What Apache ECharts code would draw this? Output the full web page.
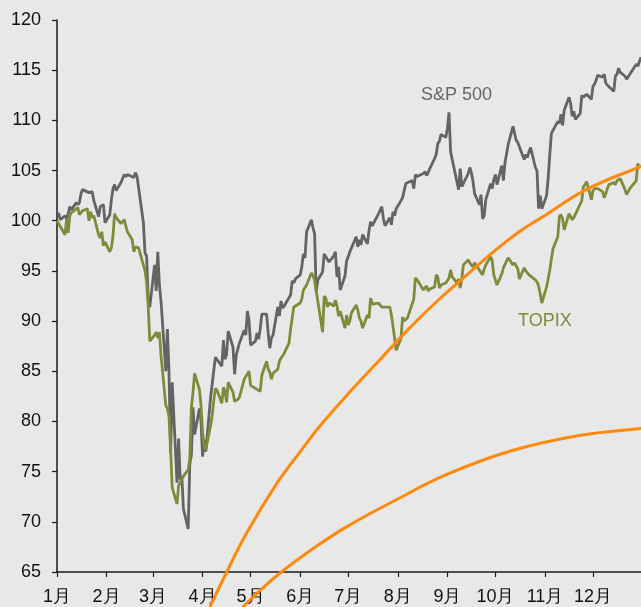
<!DOCTYPE html>
<html><head><meta charset="utf-8">
<script src="https://cdn.jsdelivr.net/npm/echarts@6/dist/echarts.min.js"></script>
<style>html,body{margin:0;padding:0;background:#e8e8e8}#c{width:641px;height:607px}</style>
</head><body><div id="c"></div>
<script>
const monthLabels = ['1月','2月','3月','4月','5月','6月','7月','8月','9月','10月','11月','12月'];

const spxDates = [
'01-02','01-03','01-06','01-07','01-08','01-09','01-10','01-13','01-14','01-15','01-16','01-17','01-21','01-22','01-23','01-24','01-27','01-28','01-29','01-30','01-31',
'02-03','02-04','02-05','02-06','02-07','02-10','02-11','02-12','02-13','02-14','02-18','02-19','02-20','02-21','02-24','02-25','02-26','02-27','02-28',
'03-02','03-03','03-04','03-05','03-06','03-09','03-10','03-11','03-12','03-13','03-16','03-17','03-18','03-19','03-20','03-23','03-24','03-25','03-26','03-27','03-30','03-31',
'04-01','04-02','04-03','04-06','04-07','04-08','04-09','04-13','04-14','04-15','04-16','04-17','04-20','04-21','04-22','04-23','04-24','04-27','04-28','04-29','04-30',
'05-01','05-04','05-05','05-06','05-07','05-08','05-11','05-12','05-13','05-14','05-15','05-18','05-19','05-20','05-21','05-22','05-26','05-27','05-28','05-29',
'06-01','06-02','06-03','06-04','06-05','06-08','06-09','06-10','06-11','06-12','06-15','06-16','06-17','06-18','06-19','06-22','06-23','06-24','06-25','06-26','06-29','06-30',
'07-01','07-02','07-06','07-07','07-08','07-09','07-10','07-13','07-14','07-15','07-16','07-17','07-20','07-21','07-22','07-23','07-24','07-27','07-28','07-29','07-30','07-31',
'08-03','08-04','08-05','08-06','08-07','08-10','08-11','08-12','08-13','08-14','08-17','08-18','08-19','08-20','08-21','08-24','08-25','08-26','08-27','08-28','08-31',
'09-01','09-02','09-03','09-04','09-08','09-09','09-10','09-11','09-14','09-15','09-16','09-17','09-18','09-21','09-22','09-23','09-24','09-25','09-28','09-29','09-30',
'10-01','10-02','10-05','10-06','10-07','10-08','10-09','10-12','10-13','10-14','10-15','10-16','10-19','10-20','10-21','10-22','10-23','10-26','10-27','10-28','10-29','10-30',
'11-02','11-03','11-04','11-05','11-06','11-09','11-10','11-11','11-12','11-13','11-16','11-17','11-18','11-19','11-20','11-23','11-24','11-25','11-27','11-30',
'12-01','12-02','12-03','12-04','12-07','12-08','12-09','12-10','12-11','12-14','12-15','12-16','12-17','12-18','12-21','12-22','12-23','12-24','12-28','12-29','12-30','12-31'
];
const spxValues = [
100.8,100.1,100.5,100.2,100.7,101.4,101.1,101.8,101.6,101.8,102.7,103.1,102.8,102.8,102.9,102.0,100.4,101.4,101.3,101.6,99.8,
100.6,102.1,103.2,103.6,103.0,103.8,103.9,104.6,104.4,104.6,104.3,104.8,104.4,103.3,99.8,96.8,96.5,92.2,91.4,
95.6,93.0,96.9,93.6,92.0,85.0,89.2,84.9,76.8,83.9,73.9,78.3,74.2,74.6,71.3,69.3,75.8,76.6,81.4,78.7,81.3,80.0,
76.5,78.2,77.0,82.4,82.3,85.1,86.4,85.5,88.1,86.2,86.7,89.0,87.4,84.7,86.6,86.6,87.8,89.1,88.6,91.0,90.1,
87.6,88.0,88.8,88.2,89.2,90.7,90.7,88.8,87.3,88.3,88.6,91.4,90.5,92.0,91.3,91.5,92.6,94.0,93.8,94.2,
94.6,95.4,96.7,96.3,98.9,100.1,99.3,98.7,92.9,94.1,94.9,96.7,96.4,96.4,95.9,96.5,96.9,94.4,95.4,93.1,94.5,96.0,
96.4,96.9,98.4,97.4,98.1,97.6,98.6,97.7,99.0,99.9,99.5,99.8,100.7,100.8,101.4,100.2,99.5,100.3,99.6,100.9,100.5,101.2,
102.0,102.3,103.0,103.7,103.7,104.0,103.2,104.6,104.4,104.4,104.7,104.9,104.5,104.8,105.2,106.2,106.6,107.7,107.9,108.6,108.3,
109.2,110.8,106.9,106.1,103.1,105.2,103.4,103.4,104.7,105.3,104.8,103.9,102.7,101.6,102.6,100.2,100.5,102.1,103.7,103.2,104.1,
104.6,103.6,105.5,104.0,105.8,106.7,107.6,109.4,108.7,108.0,107.8,107.8,106.1,106.6,106.3,106.9,107.3,105.3,105.0,101.2,102.5,101.2,
102.5,104.3,106.6,108.7,108.6,109.9,109.7,110.6,109.5,111.0,112.3,111.7,110.4,110.9,110.1,110.7,112.5,112.3,112.6,112.1,
113.4,113.6,113.5,114.5,114.3,114.6,113.7,113.5,113.4,112.9,114.4,114.6,115.2,114.8,114.4,114.1,114.2,114.6,115.6,115.4,115.5,116.3
];

const topixDates = [
'01-01','01-06','01-07','01-08','01-09','01-10','01-14','01-15','01-16','01-17','01-20','01-21','01-22','01-23','01-24','01-27','01-28','01-29','01-30','01-31',
'02-03','02-04','02-05','02-06','02-07','02-10','02-12','02-13','02-14','02-17','02-18','02-19','02-20','02-21','02-25','02-26','02-27','02-28',
'03-02','03-03','03-04','03-05','03-06','03-09','03-10','03-11','03-12','03-13','03-16','03-17','03-18','03-19','03-23','03-24','03-25','03-26','03-27','03-30','03-31',
'04-01','04-02','04-03','04-06','04-07','04-08','04-09','04-10','04-13','04-14','04-15','04-16','04-17','04-20','04-21','04-22','04-23','04-24','04-27','04-28','04-30',
'05-01','05-07','05-08','05-11','05-12','05-13','05-14','05-15','05-18','05-19','05-20','05-21','05-22','05-25','05-26','05-27','05-28','05-29',
'06-01','06-02','06-03','06-04','06-05','06-08','06-09','06-10','06-11','06-12','06-15','06-16','06-17','06-18','06-19','06-22','06-23','06-24','06-25','06-26','06-29','06-30',
'07-01','07-02','07-03','07-06','07-07','07-08','07-09','07-10','07-13','07-14','07-15','07-16','07-17','07-20','07-21','07-22','07-27','07-28','07-29','07-30','07-31',
'08-03','08-04','08-05','08-06','08-07','08-11','08-12','08-13','08-14','08-17','08-18','08-19','08-20','08-21','08-24','08-25','08-26','08-27','08-28','08-31',
'09-01','09-02','09-03','09-04','09-07','09-08','09-09','09-10','09-11','09-14','09-15','09-16','09-17','09-18','09-23','09-24','09-25','09-28','09-29','09-30',
'10-02','10-05','10-06','10-07','10-08','10-09','10-12','10-13','10-14','10-15','10-16','10-19','10-20','10-21','10-22','10-23','10-26','10-27','10-28','10-29','10-30',
'11-02','11-04','11-05','11-06','11-09','11-10','11-11','11-12','11-13','11-16','11-17','11-18','11-19','11-20','11-24','11-25','11-26','11-27','11-30',
'12-01','12-02','12-03','12-04','12-07','12-08','12-09','12-10','12-11','12-14','12-15','12-16','12-17','12-18','12-21','12-22','12-23','12-24','12-25','12-28','12-29','12-30'
];
const topixValues = [
100.0,98.6,100.2,98.8,100.5,100.8,101.3,100.6,100.7,101.0,101.2,100.0,100.9,100.3,100.5,98.6,98.3,98.9,97.5,97.9,
96.9,97.3,98.5,100.7,100.3,99.7,100.1,99.5,98.9,98.1,96.9,97.4,97.3,97.3,95.0,93.9,91.5,88.0,
88.6,88.9,88.3,88.9,86.6,81.6,81.3,80.5,77.3,73.4,71.8,73.6,73.9,74.3,75.2,76.3,81.4,82.9,84.8,83.2,81.6,
78.9,77.6,77.2,79.6,80.6,82.1,83.3,83.1,81.8,83.4,83.0,81.9,83.9,82.9,82.0,81.9,82.2,82.4,84.2,84.2,85.0,
83.6,83.0,84.6,86.0,85.2,84.9,84.2,84.8,85.2,86.0,86.3,86.2,86.8,87.8,89.2,90.3,91.4,91.5,
91.8,92.2,93.1,93.0,93.6,94.8,94.5,94.1,93.0,92.0,88.9,92.5,92.3,91.4,91.8,91.5,92.1,91.5,90.5,91.0,89.3,90.6,
89.6,90.0,90.8,91.6,91.1,90.3,90.0,89.3,90.6,90.3,92.3,91.7,91.6,91.8,91.9,91.4,91.4,90.6,89.5,88.3,87.1,
88.3,90.4,90.0,90.1,90.3,92.2,94.3,94.4,93.9,93.1,93.0,93.5,93.0,93.2,93.4,94.6,94.4,93.3,93.6,93.8,
93.9,94.3,95.1,94.4,93.8,94.2,93.3,94.2,95.6,96.1,95.8,95.6,95.4,95.8,94.6,95.2,95.6,96.4,96.0,94.6,
93.6,94.7,95.3,95.2,96.0,96.3,95.6,95.8,95.9,95.2,94.2,95.3,95.0,95.1,94.6,94.5,94.1,93.9,93.5,92.7,91.8,
93.4,95.1,96.2,97.2,98.4,100.4,100.6,100.2,99.1,100.7,100.6,100.1,100.3,100.3,102.0,103.4,103.6,103.9,102.1,
103.0,103.2,103.3,103.2,102.9,102.3,102.7,103.2,103.6,103.8,103.6,104.0,104.1,104.2,103.1,102.6,102.9,103.2,103.4,104.0,105.7,105.2
];

// orange annotation arcs: x in days after 1 Jan, y in index points
const arcOuterDays = [95.5,106.1,118.6,137.3,151.6,164.1,182.8,201.5,220.3,239.0,252.7,272.0,288.9,305.7,330.7,364.4,376.0];
const arcOuterValues = [61.5,65.0,68.9,73.8,76.9,79.5,82.9,86.1,89.3,92.2,94.1,96.8,98.9,100.6,103.1,105.4,106.2];
const arcInnerDays = [116.1,128.5,141.0,157.9,180.9,212.1,243.3,284.5,326.3,364.4,376.0];
const arcInnerValues = [61.5,63.4,65.1,67.1,69.5,72.2,74.7,77.1,78.6,79.3,79.45];

const DAY = 86400000;
const t0 = new Date(2020, 0, 1).getTime();
const toTime = md => { const [m, d] = md.split('-').map(Number); return new Date(2020, m - 1, d).getTime(); };
const pair = (dates, vals) => dates.map((d, i) => [toTime(d), vals[i]]);
const pairDays = (days, vals) => days.map((d, i) => [t0 + d * DAY, vals[i]]);
const monthStarts = monthLabels.map((_, m) => new Date(2020, m, 1).getTime());

const chart = echarts.init(document.getElementById('c'), null, {renderer: 'canvas'});
const font = '"Liberation Sans", Arial, sans-serif';
const orange = '#fb8a0e';
chart.setOption({
  animation: false,
  backgroundColor: '#e8e8e8',
  grid: {left: 57, top: 20, width: 585, height: 552, containLabel: false},
  xAxis: {
    type: 'value',
    min: toTime('01-01'), max: toTime('12-31'),
    axisLine: {show: true, onZero: false, lineStyle: {color: '#1a1a1a', width: 1.5}},
    axisTick: {show: true, length: 5, lineStyle: {color: '#1a1a1a', width: 1.2}, customValues: monthStarts},
    axisLabel: {
      customValues: monthStarts,
      formatter: v => monthLabels[new Date(v).getMonth()],
      color: '#111', fontSize: 18, fontFamily: font, margin: 16
    },
    splitLine: {show: false}
  },
  yAxis: {
    type: 'value', min: 65, max: 120, interval: 5,
    axisLine: {show: true, lineStyle: {color: '#1a1a1a', width: 1.5}},
    axisTick: {show: true, length: 5, lineStyle: {color: '#1a1a1a', width: 1.2}},
    axisLabel: {color: '#111', fontSize: 18, fontFamily: font, margin: 16},
    splitLine: {show: false}
  },
  series: [
    {name: 'S&P 500', type: 'line', data: pair(spxDates, spxValues), showSymbol: false,
     lineStyle: {color: '#646464', width: 2.8}, itemStyle: {color: '#646464'}, z: 2},
    {name: 'TOPIX', type: 'line', data: pair(topixDates, topixValues), showSymbol: false,
     lineStyle: {color: '#7f8b3b', width: 2.8}, itemStyle: {color: '#7f8b3b'}, z: 3},
    {name: 'arc1', type: 'line', data: pairDays(arcOuterDays, arcOuterValues), showSymbol: false,
     smooth: 0.4, clip: false,
     lineStyle: {color: orange, width: 3}, itemStyle: {color: orange}, z: 5, silent: true},
    {name: 'arc2', type: 'line', data: pairDays(arcInnerDays, arcInnerValues), showSymbol: false,
     smooth: 0.4, clip: false,
     lineStyle: {color: orange, width: 3}, itemStyle: {color: orange}, z: 5, silent: true}
  ],
  graphic: [
    {type: 'text', x: 421, y: 95, style: {text: 'S&P 500', font: '18px ' + font, fill: '#666666', verticalAlign: 'middle', align: 'left'}},
    {type: 'text', x: 518, y: 321, style: {text: 'TOPIX', font: '18px ' + font, fill: '#7f8b3b', verticalAlign: 'middle', align: 'left'}}
  ]
});
</script>
</body></html>
